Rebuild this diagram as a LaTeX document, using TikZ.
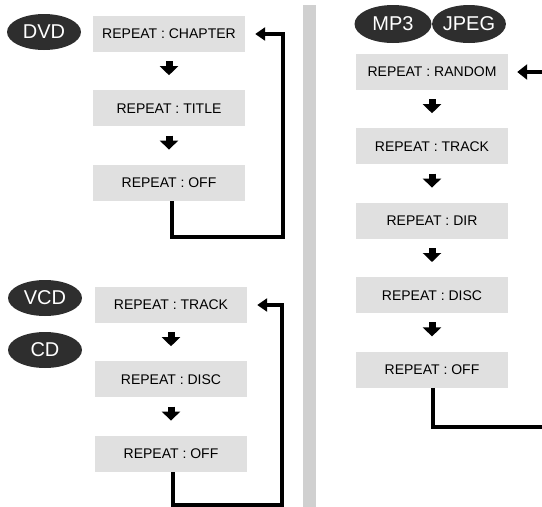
\documentclass[tikz,border=0pt]{standalone}
\usepackage{fontspec}
\setmainfont{Liberation Sans}
\usetikzlibrary{positioning, shapes.geometric, arrows.meta}
\definecolor{modecol}{RGB}{224, 224, 224}
\definecolor{barcol}{RGB}{208, 208, 208}
\definecolor{disccol}{RGB}{46, 46, 46}
\tikzset{
  mode/.style={fill=modecol, minimum width=152pt, minimum height=36pt,
               inner sep=0pt, font=\fontsize{14}{16}\selectfont},
  disc/.style={ellipse, fill=disccol, text=white, minimum width=74pt,
               minimum height=36pt, inner sep=0pt, font=\fontsize{20}{22}\selectfont},
  nextarrow/.style={line width=7pt, -{Triangle[width=18pt, length=9pt]},
                    shorten <=9pt, shorten >=15pt},
  back/.style={line width=4pt, -{Triangle[width=13pt, length=10pt]}},
}

\begin{document}
\begin{tikzpicture}[x=1pt, y=-1pt, node distance=38pt]
  \useasboundingbox (0,0) rectangle (542,507);

  % divider
  \fill[barcol] (303,5) rectangle (316,507);

  % DVD
  \node[disc] (dvd) at (44,32) {DVD};
  \node[mode] (d1) at (169,34) {REPEAT : CHAPTER};
  \node[mode, below=of d1] (d2) {REPEAT : TITLE};
  \node[mode, below=of d2] (d3) {REPEAT : OFF};
  \draw[nextarrow] (d1) -- (d2);
  \draw[nextarrow] (d2) -- (d3);
  \coordinate (dvdturn) at (283,237);
  \draw[back, shorten >=10pt] ([xshift=3pt]d3.south) |- (dvdturn) |- (d1.east);

  % VCD / CD
  \node[disc] (vcd) at (45,298) {VCD};
  \node[disc] (cd) at (45,350) {CD};
  \node[mode] (v1) at (171,305) {REPEAT : TRACK};
  \node[mode, below=of v1] (v2) {REPEAT : DISC};
  \node[mode, below=of v2] (v3) {REPEAT : OFF};
  \draw[nextarrow] (v1) -- (v2);
  \draw[nextarrow] (v2) -- (v3);
  \coordinate (vcdturn) at (282,505);
  \draw[back, shorten >=10pt] ([xshift=2pt]v3.south) |- (vcdturn) |- (v1.east);

  % MP3 / JPEG
  \node[disc, minimum width=77pt, minimum height=38pt] (mp3) at (393,24) {MP3};
  \node[disc, minimum width=71pt, minimum height=38pt] (jpeg) at (469,24) {JPEG};
  \node[mode] (m1) at (432,72) {REPEAT : RANDOM};
  \node[mode, below=of m1] (m2) {REPEAT : TRACK};
  \node[mode, below=of m2] (m3) {REPEAT : DIR};
  \node[mode, below=of m3] (m4) {REPEAT : DISC};
  \node[mode, below=of m4] (m5) {REPEAT : OFF};
  \foreach \a/\b in {m1/m2, m2/m3, m3/m4, m4/m5}
    \draw[nextarrow] (\a) -- (\b);
  \coordinate (mpout) at (542,427);
  \coordinate (mpin) at (542,72);
  \draw[line width=4pt] ([xshift=1pt]m5.south) |- (mpout);
  \draw[back, -{Triangle[width=15pt, length=10pt]}, shorten >=9pt] (mpin) -- (m1.east);
\end{tikzpicture}
\end{document}
